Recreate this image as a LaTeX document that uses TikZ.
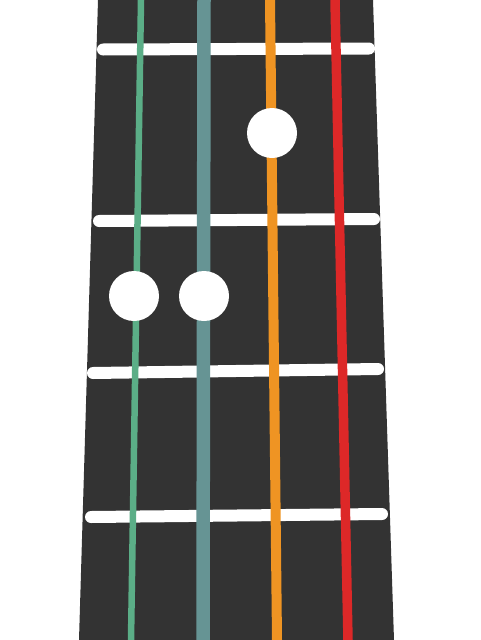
\documentclass[tikz,border=0pt]{standalone}
\begin{document}
\begin{tikzpicture}[x=1pt,y=-1pt,
  fret/.style={white,line width=12pt,line cap=round},
  str/.style={line width=#1},
  dot/.style={circle,fill=white,minimum size=50pt,inner sep=0pt}]
\definecolor{board}{HTML}{333333}
\definecolor{sgreen}{HTML}{5BAE87}
\definecolor{steal}{HTML}{669494}
\definecolor{sorange}{HTML}{EF9423}
\definecolor{sred}{HTML}{DD2828}
\useasboundingbox (0,0) rectangle (480,640);
\fill[board] (98,0) -- (373,0) -- (394,640) -- (79,640) -- cycle;
% frets
\draw[fret] (103,49.5) -- (369,48.5);
\draw[fret] (99,221) -- (374,219);
\draw[fret] (93,373) -- (378,369);
\draw[fret] (91,517) -- (382,514);
% strings
\coordinate (g1) at (141,0); \coordinate (g2) at (131,640);
\coordinate (t1) at (204,0); \coordinate (t2) at (203,640);
\coordinate (o1) at (270,0); \coordinate (o2) at (277,640);
\coordinate (r1) at (335,0); \coordinate (r2) at (348,640);
\draw[sgreen,str=6.5pt] (g1) -- (g2);
\draw[steal,str=13.5pt] (t1) -- (t2);
\draw[sorange,str=10pt] (o1) -- (o2);
\draw[sred,str=9.5pt] (r1) -- (r2);
% dots
\node[dot] (d1) at (272,133) {};
\node[dot] (d2) at (134,296) {};
\node[dot] (d3) at (204,296) {};
\end{tikzpicture}
\end{document}
